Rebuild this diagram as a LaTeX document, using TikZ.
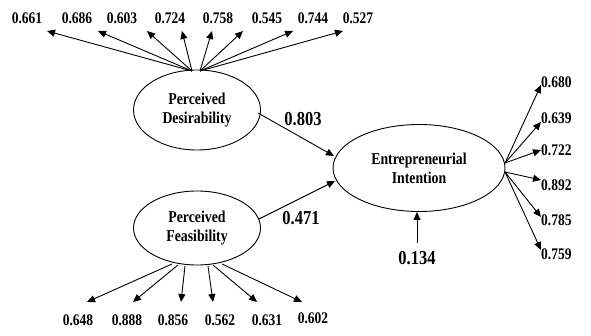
\documentclass[tikz,border=0pt]{standalone}
\usepackage{fontspec}
\usepackage{graphicx}
\setmainfont{Liberation Serif}
\usetikzlibrary{shapes.geometric,arrows.meta}
\newcommand{\tallt}[1]{\scalebox{1}[1.2]{#1}}
\begin{document}
\begin{tikzpicture}[x=1pt,y=-1pt,
  lv/.style={draw,ellipse,line width=0.9pt,inner sep=0pt,align=center,font=\fontsize{13.8}{19}\selectfont\bfseries},
  ind/.style={font=\fontsize{13.5}{15}\selectfont\bfseries,inner sep=0pt},
  pl/.style={font=\fontsize{16.5}{18}\selectfont\bfseries,inner sep=0pt},
  arr/.style={line width=0.9pt,-{Triangle[length=8pt,width=7pt]}}]
\useasboundingbox (0,0) rectangle (591,336);
% latent variables
\node[lv,minimum width=127pt,minimum height=80pt] (PD) at (197,110) {\tallt{Perceived}\\\tallt{Desirability}};
\node[lv,minimum width=127pt,minimum height=74pt] (PF) at (197,228) {\tallt{Perceived}\\\tallt{Feasibility}};
\node[lv,minimum width=172pt,minimum height=87pt] (EI) at (419,168) {\tallt{Entrepreneurial}\\\tallt{Intention}};
% top indicators
\coordinate (pdl) at (192,71);
\coordinate (pdr) at (200,71);
\foreach \lx/\tx/\v/\o [count=\i] in {27/47/0.661/pdl,77/98/0.686/pdl,122/147/0.603/pdl,170/182/0.724/pdl,218/212/0.758/pdr,267/243/0.545/pdr,313/293/0.744/pdr,358/343/0.527/pdr}{
  \node[ind] (t\i) at (\lx,18) {\tallt{\v}};
  \coordinate (tt\i) at (\tx,31);
  \draw[arr] (\o) -- (tt\i);
}
% bottom indicators
\foreach \lx/\ly/\tx/\ox/\oy/\v [count=\i] in {78/320/87/172/264/0.648,127/320/133/178/265/0.888,173/320/181/185/266/0.856,220/320/213/208/266/0.562,267/320/257/213/265/0.631,313/318/302/222/264/0.602}{
  \node[ind] (b\i) at (\lx,\ly) {\tallt{\v}};
  \coordinate (bo\i) at (\ox,\oy);
  \coordinate (bt\i) at (\tx,302);
  \draw[arr] (bo\i) -- (bt\i);
}
% right indicators
\coordinate (eiu) at (505,163);
\coordinate (eid) at (505,172);
\foreach \ly/\ty/\v/\o [count=\i] in {82/85/0.680/eiu,118/122/0.639/eiu,150/150/0.722/eiu,185/180/0.892/eid,220/217/0.785/eid,254/250/0.759/eid}{
  \node[ind,anchor=west] (r\i) at (541,\ly) {\tallt{\v}};
  \coordinate (rt\i) at (541,\ty);
  \draw[arr] (\o) -- (rt\i);
}
% structural paths
\coordinate (s1) at (258,113);
\coordinate (e1) at (334,156);
\draw[arr] (s1) -- (e1);
\node[pl] (p1) at (303,119) {\tallt{0.803}};
\coordinate (s2) at (259,219);
\coordinate (e2) at (335,181);
\draw[arr] (s2) -- (e2);
\node[pl] (p2) at (301,218) {\tallt{0.471}};
% disturbance
\node[pl] (d) at (417,258) {\tallt{0.134}};
\coordinate (dt) at (417,243);
\coordinate (dh) at (417,212);
\draw[arr] (dt) -- (dh);
\end{tikzpicture}
\end{document}
